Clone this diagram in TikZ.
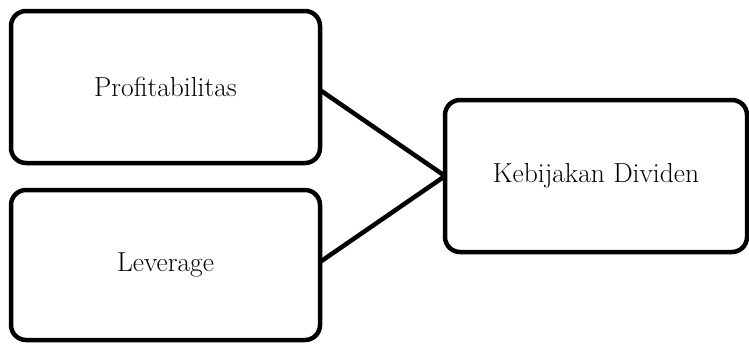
\documentclass[tikz,border=0pt]{standalone}
\usepackage{fontspec}
\setmainfont{Latin Modern Roman}
\tikzset{
  box/.style={draw=black, line width=4.5pt, rounded corners=15pt, fill=white,
    inner sep=0pt, outer sep=0pt, font=\fontsize{27.5}{32}\selectfont},
  link/.style={draw=black, line width=4.5pt}
}
\begin{document}
\begin{tikzpicture}[x=1pt,y=-1pt]
\useasboundingbox (0,0) rectangle (749,343);
\node[box, minimum width=309pt, minimum height=152pt] (p) at (165.5,87) {Profitabilitas};
\node[box, minimum width=309pt, minimum height=150pt] (l) at (165.5,265) {Leverage};
\node[box, minimum width=302pt, minimum height=152pt] (k) at (596,176) {Kebijakan Dividen};
\draw[link] ([yshift=-3pt]p.east) -- (k.west);
\draw[link] ([yshift=3pt]l.east) -- (k.west);
\end{tikzpicture}
\end{document}
